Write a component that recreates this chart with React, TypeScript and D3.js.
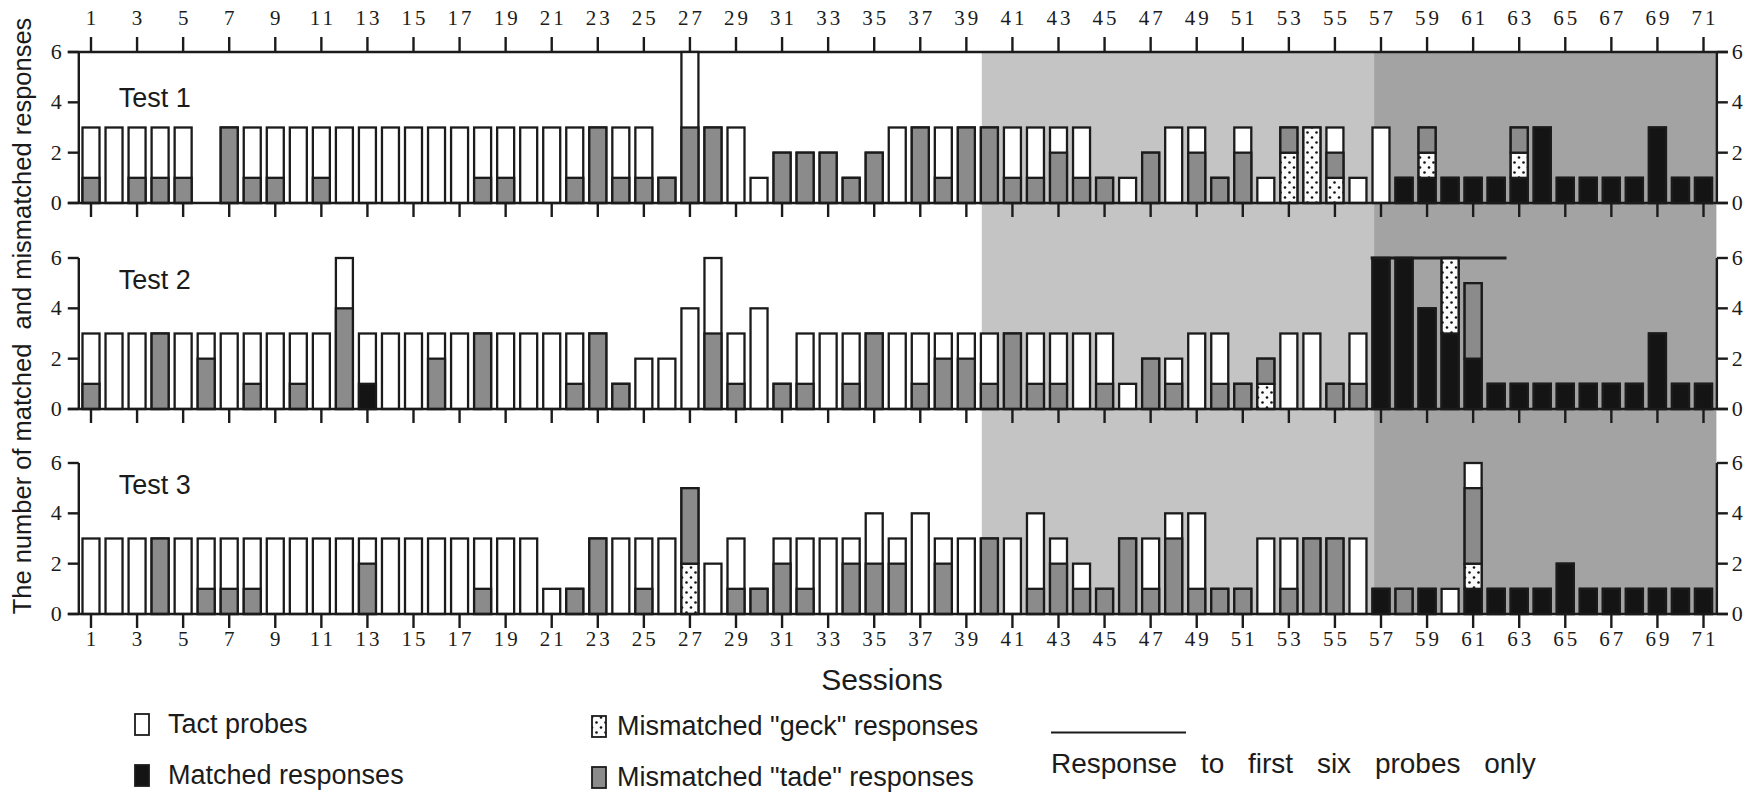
import React from 'react';
import * as d3 from 'd3';

// Sessions 1..71
const sessions: number[] = d3.range(1, 72);
const topTickSessions: number[] = d3.range(1, 72, 2);
const yTicks: number[] = [0, 2, 4, 6];
const testLabels: string[] = ['Test 1', 'Test 2', 'Test 3'];

// Test 1 — probes given per session and the responses stacked inside each bar
const test1Probes = [3,3,3,3,3,0,3,3,3,3,3,3,3,3,3,3,3,3,3,3,3,3,3,3,3,1,6,3,3,1,2,2,2,1,2,3,3,3,3,3,3,3,3,3,1,1,2,3,3,1,3,1,3,3,3,1,3,1,3,1,1,1,3,3,1,1,1,1,3,1,1];
const test1Matched = [0,0,0,0,0,0,0,0,0,0,0,0,0,0,0,0,0,0,0,0,0,0,0,0,0,0,0,0,0,0,0,0,0,0,0,0,0,0,0,0,0,0,0,0,0,0,0,0,0,0,0,0,0,0,0,0,0,1,1,1,1,1,1,3,1,1,1,1,3,1,1];
const test1Geck = [0,0,0,0,0,0,0,0,0,0,0,0,0,0,0,0,0,0,0,0,0,0,0,0,0,0,0,0,0,0,0,0,0,0,0,0,0,0,0,0,0,0,0,0,0,0,0,0,0,0,0,0,2,3,1,0,0,0,1,0,0,0,1,0,0,0,0,0,0,0,0];
const test1Tade = [1,0,1,1,1,0,3,1,1,0,1,0,0,0,0,0,0,1,1,0,0,1,3,1,1,1,3,3,0,0,2,2,2,1,2,0,3,1,3,3,1,1,2,1,1,0,2,0,2,1,2,0,1,0,1,0,0,0,1,0,0,0,1,0,0,0,0,0,0,0,0];

// Test 2
const test2Probes = [3,3,3,3,3,3,3,3,3,3,3,6,3,3,3,3,3,3,3,3,3,3,3,1,2,2,4,6,3,4,1,3,3,3,3,3,3,3,3,3,3,3,3,3,3,1,2,2,3,3,1,2,3,3,1,3,6,6,4,6,5,1,1,1,1,1,1,1,3,1,1];
const test2Matched = [0,0,0,0,0,0,0,0,0,0,0,0,1,0,0,0,0,0,0,0,0,0,0,0,0,0,0,0,0,0,0,0,0,0,0,0,0,0,0,0,0,0,0,0,0,0,0,0,0,0,0,0,0,0,0,0,6,6,4,3,2,1,1,1,1,1,1,1,3,1,1];
const test2Geck = [0,0,0,0,0,0,0,0,0,0,0,0,0,0,0,0,0,0,0,0,0,0,0,0,0,0,0,0,0,0,0,0,0,0,0,0,0,0,0,0,0,0,0,0,0,0,0,0,0,0,0,1,0,0,0,0,0,0,0,3,0,0,0,0,0,0,0,0,0,0,0];
const test2Tade = [1,0,0,3,0,2,0,1,0,1,0,4,0,0,0,2,0,3,0,0,0,1,3,1,0,0,0,3,1,0,1,1,0,1,3,0,1,2,2,1,3,1,1,0,1,0,2,1,0,1,1,1,0,0,1,1,0,0,0,0,3,0,0,0,0,0,0,0,0,0,0];

// Test 3
const test3Probes = [3,3,3,3,3,3,3,3,3,3,3,3,3,3,3,3,3,3,3,3,1,1,3,3,3,3,5,2,3,1,3,3,3,3,4,3,4,3,3,3,3,4,3,2,1,3,3,4,4,1,1,3,3,3,3,3,1,1,1,1,6,1,1,1,2,1,1,1,1,1,1];
const test3Matched = [0,0,0,0,0,0,0,0,0,0,0,0,0,0,0,0,0,0,0,0,0,0,0,0,0,0,0,0,0,0,0,0,0,0,0,0,0,0,0,0,0,0,0,0,0,0,0,0,0,0,0,0,0,0,0,0,1,0,1,0,1,1,1,1,2,1,1,1,1,1,1];
const test3Geck = [0,0,0,0,0,0,0,0,0,0,0,0,0,0,0,0,0,0,0,0,0,0,0,0,0,0,2,0,0,0,0,0,0,0,0,0,0,0,0,0,0,0,0,0,0,0,0,0,0,0,0,0,0,0,0,0,0,0,0,0,1,0,0,0,0,0,0,0,0,0,0];
const test3Tade = [0,0,0,3,0,1,1,1,0,0,0,0,2,0,0,0,0,1,0,0,0,1,3,0,1,0,3,0,1,1,2,1,0,2,2,2,0,2,0,3,0,1,2,1,1,3,1,3,1,1,1,0,1,3,3,0,0,1,0,0,3,0,0,0,0,0,0,0,0,0,0];

const probes = [test1Probes, test2Probes, test3Probes];
const matched = [test1Matched, test2Matched, test3Matched];
const geck = [test1Geck, test2Geck, test3Geck];
const tade = [test1Tade, test2Tade, test3Tade];

// Phase boundaries (in session units) for the shaded backgrounds
const phaseLightStart = 39.67;
const phaseDarkStart = 56.7;
const phaseEnd = 71.56;
// Extent of the "first six probes" bracket in Test 2
const sixProbeSpan: [number, number] = [56.55, 62.45];

const INK = '#1b1b1b';
const WHITE = '#ffffff';
const GRAY_BAR = '#8b8b8b';
const BLACK_BAR = '#141414';
const SHADE_LIGHT = '#c4c4c4';
const SHADE_DARK = '#a3a3a3';
const SERIF = '"Liberation Serif", "Times New Roman", serif';
const SANS = '"Liberation Sans", Arial, Helvetica, sans-serif';
const TICK_FONT = 21;
const TICK_SPACING = 3;

export default function App() {
  const width = 1759;
  const height = 793;
  const x = d3.scaleLinear().domain([1, 71]).range([91, 1703.5]);
  const leftX = x(0.47);
  const rightX = x(71.58);
  const baselines = [203, 409, 614];
  const panelH = 151;
  const yScales = baselines.map((b) => d3.scaleLinear().domain([0, 6]).range([b, b - panelH]));
  const barW = 17;
  const tickLen = 11;
  const labelY = [107, 289, 494];

  const renderBars = (p: number) => {
    const y = yScales[p];
    return sessions.map((s, i) => {
      const total = probes[p][i];
      const m = matched[p][i];
      const g = geck[p][i];
      const t = tade[p][i];
      const cx = x(s);
      const x0 = cx - barW / 2;
      const parts: JSX.Element[] = [];
      if (total > 0) {
        parts.push(
          <rect key="w" x={x0} y={y(total)} width={barW} height={y(0) - y(total)}
            fill={WHITE} stroke={INK} strokeWidth={2.3} />
        );
      }
      let acc = 0;
      const segs: [number, string][] = [[m, BLACK_BAR], [g, 'url(#dots)'], [t, GRAY_BAR]];
      segs.forEach(([v, fill], k) => {
        if (v > 0) {
          parts.push(
            <rect key={'s' + k} x={x0} y={y(acc + v)} width={barW} height={y(acc) - y(acc + v)}
              fill={fill} stroke={INK} strokeWidth={2.3} />
          );
          acc += v;
        }
      });
      return <g key={s}>{parts}</g>;
    });
  };

  const shadeTop = yScales[0](6);
  const shadeBottom = baselines[2];

  return (
    <svg width={width} height={height} style={{ position: 'fixed', left: 0, top: 0, background: '#fff' }}>
      <defs>
        <pattern id="dots" width={9} height={10} patternUnits="userSpaceOnUse">
          <rect width={9} height={10} fill="#fbfbfb" />
          <circle cx={2.5} cy={2.5} r={1.3} fill="#111" />
          <circle cx={7} cy={7.5} r={1.3} fill="#111" />
        </pattern>
      </defs>

      {/* phase shading */}
      <rect x={x(phaseLightStart)} y={shadeTop} width={x(phaseDarkStart) - x(phaseLightStart)}
        height={shadeBottom - shadeTop} fill={SHADE_LIGHT} />
      <rect x={x(phaseDarkStart)} y={shadeTop} width={x(phaseEnd) - x(phaseDarkStart)}
        height={shadeBottom - shadeTop} fill={SHADE_DARK} />

      {/* top session axis */}
      <line x1={leftX - tickLen} x2={rightX + tickLen} y1={yScales[0](6)} y2={yScales[0](6)} stroke={INK} strokeWidth={2.4} />
      {topTickSessions.map((s) => (
        <g key={'tt' + s}>
          <line x1={x(s)} x2={x(s)} y1={yScales[0](6)} y2={yScales[0](6) - 15} stroke={INK} strokeWidth={2.4} />
          <text x={x(s) + TICK_SPACING / 2} y={25} textAnchor="middle" fontFamily={SERIF} fontSize={TICK_FONT}
            letterSpacing={TICK_SPACING} fill={INK}>{s}</text>
        </g>
      ))}

      {[0, 1, 2].map((p) => {
        const y = yScales[p];
        return (
          <g key={'panel' + p}>
            {renderBars(p)}
            {/* baseline */}
            <line x1={leftX - tickLen} x2={rightX + tickLen} y1={y(0)} y2={y(0)} stroke={INK} strokeWidth={2.4} />
            {/* left axis */}
            <line x1={leftX} x2={leftX} y1={y(6)} y2={y(0)} stroke={INK} strokeWidth={2.4} />
            {/* right axis */}
            <line x1={rightX} x2={rightX} y1={y(6)} y2={y(0)} stroke={INK} strokeWidth={2.4} />
            {yTicks.map((v) => (
              <g key={'yt' + v}>
                <line x1={leftX - tickLen} x2={leftX} y1={y(v)} y2={y(v)} stroke={INK} strokeWidth={2.4} />
                <line x1={rightX} x2={rightX + tickLen} y1={y(v)} y2={y(v)} stroke={INK} strokeWidth={2.4} />
                <text x={leftX - 17} y={y(v) + 7} textAnchor="end" fontFamily={SERIF} fontSize={22} fill={INK}>{v}</text>
                <text x={rightX + 15} y={y(v) + 7} textAnchor="start" fontFamily={SERIF} fontSize={22} fill={INK}>{v}</text>
              </g>
            ))}
            {/* bottom ticks */}
            {topTickSessions.map((s) => (
              <line key={'bt' + s} x1={x(s)} x2={x(s)} y1={y(0)} y2={y(0) + 14} stroke={INK} strokeWidth={2.4} />
            ))}
            <text x={x(2.2)} y={labelY[p]} fontFamily={SANS} fontSize={27} fill={INK}>
              {testLabels[p]}
            </text>
          </g>
        );
      })}

      {/* bracket over Test 2 sessions where only first six probes were scored */}
      <line x1={x(sixProbeSpan[0])} x2={x(sixProbeSpan[1])} y1={yScales[1](6)} y2={yScales[1](6)}
        stroke={INK} strokeWidth={3} />

      {/* bottom session labels */}
      {topTickSessions.map((s) => (
        <text key={'bl' + s} x={x(s) + TICK_SPACING / 2} y={646} textAnchor="middle" fontFamily={SERIF}
          fontSize={TICK_FONT} letterSpacing={TICK_SPACING} fill={INK}>{s}</text>
      ))}
      <text x={882} y={690} textAnchor="middle" fontFamily={SANS} fontSize={30} fill={INK}>Sessions</text>

      <text transform="translate(31,316) rotate(-90)" textAnchor="middle" fontFamily={SANS} fontSize={25.5} fill={INK}
        style={{ whiteSpace: 'pre' }}>
        {'The number of matched  and mismatched responses'}
      </text>

      {/* legend */}
      <g fontFamily={SANS} fontSize={27} fill={INK}>
        <rect x={135} y={714} width={14} height={21} fill={WHITE} stroke={INK} strokeWidth={1.8} />
        <text x={168} y={733}>Tact probes</text>
        <rect x={135} y={765} width={14} height={21} fill={BLACK_BAR} stroke={INK} strokeWidth={1.8} />
        <text x={168} y={784}>Matched responses</text>
        <rect x={592} y={716} width={14} height={21} fill="url(#dots)" stroke={INK} strokeWidth={1.8} />
        <text x={617} y={735}>Mismatched "geck" responses</text>
        <rect x={592} y={767} width={14} height={21} fill={GRAY_BAR} stroke={INK} strokeWidth={1.8} />
        <text x={617} y={786}>Mismatched "tade" responses</text>
        <line x1={1051} x2={1186} y1={732.5} y2={732.5} stroke={INK} strokeWidth={2.2} />
        <text x={1051} y={773} fontSize={28} wordSpacing={16} style={{ whiteSpace: 'pre' }}>
          Response to first six probes only
        </text>
      </g>
    </svg>
  );
}
